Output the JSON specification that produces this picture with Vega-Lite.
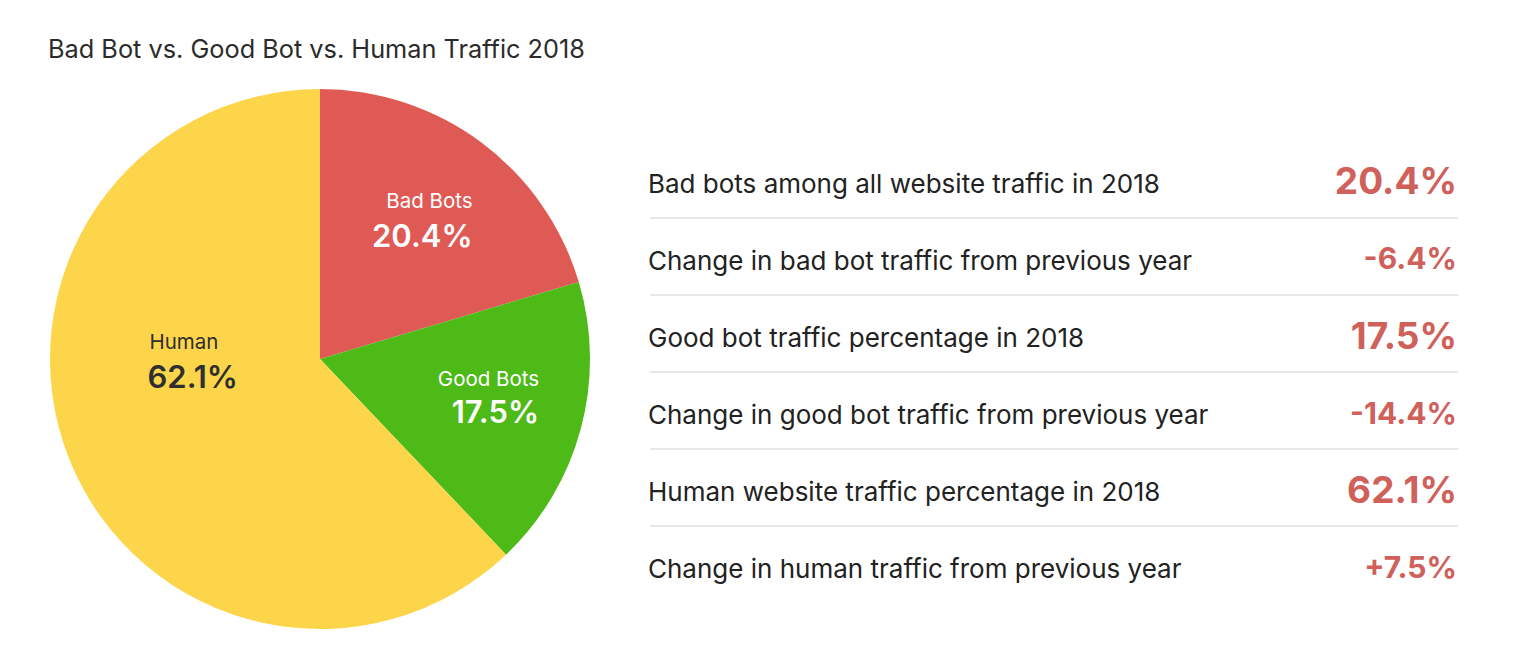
{
  "$schema": "https://vega.github.io/schema/vega-lite/v6.json",
  "padding": {"left": 48, "top": 37, "right": 0, "bottom": 0},
  "title": {"text": "Bad Bot vs. Good Bot vs. Human Traffic 2018", "anchor": "start", "fontSize": 25.3, "fontWeight": "normal", "color": "#2b2b2b", "font": "Inter", "offset": 26, "dx": -2},
  "config": {"view": {"stroke": null}, "font": "Inter"},
  "datasets": {
    "pie": [
      {"category": "Bad Bots", "share": 20.4, "label": "20.4%", "order": 1},
      {"category": "Good Bots", "share": 17.5, "label": "17.5%", "order": 2},
      {"category": "Human", "share": 62.1, "label": "62.1%", "order": 3}
    ],
    "table": [
      {"order": 1, "label": "Bad bots among all website traffic in 2018", "value": "20.4%", "kind": "main"},
      {"order": 2, "label": "Change in bad bot traffic from previous year", "value": "-6.4%", "kind": "change"},
      {"order": 3, "label": "Good bot traffic percentage in 2018", "value": "17.5%", "kind": "main"},
      {"order": 4, "label": "Change in good bot traffic from previous year", "value": "-14.4%", "kind": "change"},
      {"order": 5, "label": "Human website traffic percentage in 2018", "value": "62.1%", "kind": "main"},
      {"order": 6, "label": "Change in human traffic from previous year", "value": "+7.5%", "kind": "change"}
    ]
  },
  "spacing": 58,
  "hconcat": [
    {
      "width": 540,
      "height": 540,
      "data": {"name": "pie"},
      "encoding": {
        "theta": {"field": "share", "type": "quantitative", "stack": true},
        "order": {"field": "order", "type": "quantitative"}
      },
      "layer": [
        {
          "mark": {"type": "arc"},
          "encoding": {
            "color": {"field": "category", "type": "nominal", "scale": {"domain": ["Bad Bots", "Good Bots", "Human"], "range": ["#E05A55", "#4DBA18", "#FDD54B"]}, "legend": null}
          }
        },
        {
          "mark": {"type": "text", "radius": 175, "align": "right", "baseline": "middle", "dx": 48, "dy": -17, "fontSize": 20.5, "color": "#ffffff"},
          "encoding": {"text": {"condition": {"test": "datum.category === 'Bad Bots'", "field": "category", "type": "nominal"}, "value": ""}}
        },
        {
          "mark": {"type": "text", "radius": 175, "align": "right", "baseline": "middle", "dx": 48, "dy": 19, "fontSize": 31, "fontWeight": 600, "color": "#ffffff"},
          "encoding": {"text": {"condition": {"test": "datum.category === 'Bad Bots'", "field": "label", "type": "nominal"}, "value": ""}}
        },
        {
          "mark": {"type": "text", "radius": 175, "align": "right", "baseline": "middle", "dx": 50, "dy": -24, "fontSize": 20.5, "color": "#ffffff"},
          "encoding": {"text": {"condition": {"test": "datum.category === 'Good Bots'", "field": "category", "type": "nominal"}, "value": ""}}
        },
        {
          "mark": {"type": "text", "radius": 175, "align": "right", "baseline": "middle", "dx": 50, "dy": 10, "fontSize": 31, "fontWeight": 600, "color": "#ffffff"},
          "encoding": {"text": {"condition": {"test": "datum.category === 'Good Bots'", "field": "label", "type": "nominal"}, "value": ""}}
        },
        {
          "mark": {"type": "text", "radius": 175, "align": "left", "baseline": "middle", "dx": -8, "dy": -81, "fontSize": 20.5, "color": "#2f2f2f"},
          "encoding": {"text": {"condition": {"test": "datum.category === 'Human'", "field": "category", "type": "nominal"}, "value": ""}}
        },
        {
          "mark": {"type": "text", "radius": 175, "align": "left", "baseline": "middle", "dx": -10, "dy": -45, "fontSize": 31, "fontWeight": 600, "color": "#2f2f2f"},
          "encoding": {"text": {"condition": {"test": "datum.category === 'Human'", "field": "label", "type": "nominal"}, "value": ""}}
        }
      ]
    },
    {
      "width": 810,
      "height": 540,
      "data": {"name": "table"},
      "encoding": {
        "y": {"field": "order", "type": "ordinal", "axis": null, "scale": {"paddingInner": 0, "paddingOuter": 0.506, "align": 0.667}}
      },
      "layer": [
        {
          "transform": [{"filter": "datum.order < 6"}],
          "mark": {"type": "rule", "color": "#e0e0e0", "strokeWidth": 1.5},
          "encoding": {
            "y": {"field": "order", "type": "ordinal", "bandPosition": 1, "axis": null},
            "x": {"value": 2},
            "x2": {"value": "width"}
          }
        },
        {
          "mark": {"type": "text", "align": "left", "baseline": "middle", "fontSize": 26, "color": "#222222", "dy": 5.5},
          "encoding": {"text": {"field": "label", "type": "nominal"}, "x": {"value": 0}}
        },
        {
          "mark": {"type": "text", "align": "right", "baseline": "middle", "fontWeight": 700, "color": "#D0605A", "dx": -1, "dy": 4},
          "encoding": {
            "text": {"field": "value", "type": "nominal"},
            "x": {"value": "width"},
            "size": {"field": "kind", "type": "nominal", "scale": {"domain": ["main", "change"], "range": [37, 30]}, "legend": null}
          }
        }
      ]
    }
  ]
}
